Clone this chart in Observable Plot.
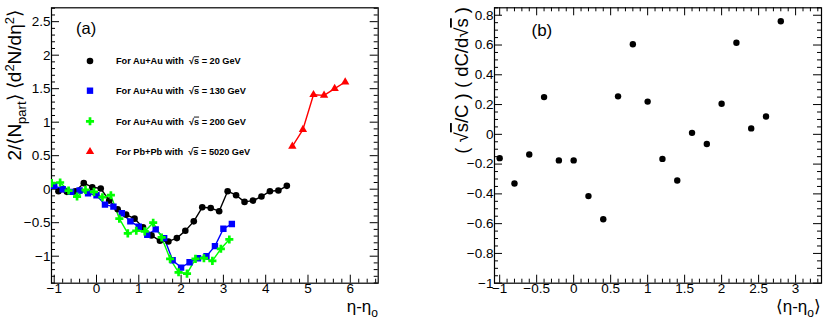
<!DOCTYPE html>
<html><head><meta charset="utf-8">
<script src="https://cdn.jsdelivr.net/npm/d3@7"></script>
<script src="https://cdn.jsdelivr.net/npm/@observablehq/plot@0.6"></script>
<style>
body{margin:0;background:#fff;}
#wrap{position:relative;width:830px;height:325px;}
#wrap svg{position:absolute;top:0;}
</style></head><body><div id="wrap"></div>
<script>
// ---------- Panel (a) data ----------
const etaAu20 = [-0.9,-0.7,-0.5,-0.3,-0.1,0.1,0.3,0.5,0.7,0.9,1.1,1.3,1.5,1.7,1.9,2.1,2.3,2.5,2.7,2.9,3.1,3.3,3.5,3.7,3.9,4.1,4.3,4.5];
const valAu20 = [-0.03,-0.04,-0.03,0.09,0.03,0.01,-0.17,-0.30,-0.38,-0.44,-0.57,-0.69,-0.77,-0.78,-0.73,-0.62,-0.48,-0.27,-0.28,-0.33,-0.03,-0.09,-0.19,-0.17,-0.11,-0.03,-0.02,0.05];
const etaAu130 = [-1.0,-0.8,-0.6,-0.4,-0.2,0.0,0.2,0.4,0.6,0.8,1.0,1.2,1.4,1.6,1.8,2.0,2.2,2.4,2.6,2.8,3.0,3.2];
const valAu130 = [0.05,0.0,-0.04,-0.02,-0.06,-0.09,-0.23,-0.26,-0.36,-0.48,-0.56,-0.68,-0.60,-0.73,-1.06,-1.17,-1.09,-1.03,-1.00,-0.85,-0.59,-0.52];
const etaAu200 = [-1.06,-0.86,-0.66,-0.46,-0.26,-0.06,0.14,0.34,0.54,0.74,0.94,1.14,1.34,1.54,1.74,1.94,2.14,2.34,2.54,2.74,2.94,3.14];
const valAu200 = [0.09,0.10,-0.02,-0.11,-0.01,-0.04,-0.12,-0.09,-0.44,-0.66,-0.62,-0.63,-0.50,-0.72,-1.04,-1.24,-1.26,-1.04,-1.03,-1.07,-0.89,-0.75];
const etaPb5020 = [4.63,4.88,5.13,5.38,5.63,5.88];
const valPb5020 = [0.64,0.89,1.41,1.40,1.50,1.60];

const legendSystems = ["Au+Au","Au+Au","Au+Au","Pb+Pb"];
const legendEnergies = ["20","130","200","5020"];
const seriesColors = ["#000000","#0000ff","#00ff00","#ff0000"];
const seriesSymbols = ["circle","square","cross","triangle"];

const aXTicks = [-1,0,1,2,3,4,5,6];
const aYTicks = [-1,-0.5,0,0.5,1,1.5,2,2.5];

// ---------- Panel (b) data ----------
const etaB = [-1.0,-0.8,-0.6,-0.4,-0.2,0.0,0.2,0.4,0.6,0.8,1.0,1.2,1.4,1.6,1.8,2.0,2.2,2.4,2.6,2.8];
const valB = [-0.16,-0.33,-0.135,0.25,-0.175,-0.175,-0.415,-0.57,0.255,0.605,0.22,-0.165,-0.31,0.01,-0.065,0.205,0.615,0.04,0.12,0.76];
const bXTicks = [-1,-0.5,0,0.5,1,1.5,2,2.5,3];
const bYTicks = [-1,-0.8,-0.6,-0.4,-0.2,0,0.2,0.4,0.6,0.8];

const FONT = '"Liberation Sans", Arial, Helvetica, sans-serif';
const fmt = d3.format("~g");

function minorTicks(dom, step, majors){
  const out = [];
  const s = Math.ceil(dom[0]/step - 1e-9), e = Math.floor(dom[1]/step + 1e-9);
  for (let i = s; i <= e; i++) {
    const v = +(i*step).toFixed(6);
    if (!majors.some(m => Math.abs(m - v) < 1e-6)) out.push(v);
  }
  return out;
}

function frameMarks(c){
  const {xd, yd, kx, ky, xMaj, xMinStep, yMaj, yMinStep, top, right} = c;
  const L = 8, l = 4;
  const xMin = minorTicks(xd, xMinStep, xMaj), yMin = minorTicks(yd, yMinStep, yMaj);
  const xM = xMaj.filter(v => v >= xd[0] && v <= xd[1]);
  const yM = yMaj.filter(v => v >= yd[0] && v <= yd[1]);
  const st = {stroke: "black", strokeWidth: 1};
  const m = [
    Plot.ruleX(xM, {x: d => d, y1: yd[0], y2: yd[0] + L/ky, ...st}),
    Plot.ruleX(xMin, {x: d => d, y1: yd[0], y2: yd[0] + l/ky, ...st}),
    Plot.ruleY(yM, {y: d => d, x1: xd[0], x2: xd[0] + L/kx, ...st}),
    Plot.ruleY(yMin, {y: d => d, x1: xd[0], x2: xd[0] + l/kx, ...st})
  ];
  if (top) {
    m.push(Plot.ruleX(xM, {x: d => d, y1: yd[1], y2: yd[1] - L/ky, ...st}));
    m.push(Plot.ruleX(xMin, {x: d => d, y1: yd[1], y2: yd[1] - l/ky, ...st}));
  }
  if (right) {
    m.push(Plot.ruleY(yM, {y: d => d, x1: xd[1], x2: xd[1] - L/kx, ...st}));
    m.push(Plot.ruleY(yMin, {y: d => d, x1: xd[1], x2: xd[1] - l/kx, ...st}));
  }
  m.push(Plot.frame({stroke: "black", strokeWidth: 1.2}));
  m.push(Plot.axisX({ticks: xMaj, tickSize: 0, tickPadding: 0, tickFormat: fmt, fontSize: 13.5, label: null}));
  m.push(Plot.axisY({ticks: yMaj, tickSize: 0, tickPadding: 1, tickFormat: fmt, fontSize: 13.5, label: null}));
  return m;
}

const W = 415, H = 325;
const wrap = document.getElementById("wrap");

// ---------- Panel (a) ----------
{
  const mL = 51, mR = 37.3, mT = 7.3, mB = 42.3;
  const xd = [-1.064, 6.66], yd = [-1.403, 2.707];
  const kx = (W - mL - mR)/(xd[1]-xd[0]), ky = (H - mT - mB)/(yd[1]-yd[0]);
  const toRows = (xs, ys) => xs.map((x, i) => ({x, y: ys[i]}));
  const series = [toRows(etaAu20, valAu20), toRows(etaAu130, valAu130), toRows(etaAu200, valAu200), toRows(etaPb5020, valPb5020)];
  const rs = [3.3, 3.6, 3.4, 3.1];
  const marks = [];
  series.forEach((s, i) => {
    marks.push(Plot.line(s, {x: "x", y: "y", stroke: seriesColors[i], strokeWidth: 1.4, clip: true}));
  });
  series.forEach((s, i) => {
    marks.push(Plot.dot(s, {x: "x", y: "y", symbol: () => seriesSymbols[i], fill: seriesColors[i], stroke: "none", r: rs[i], clip: true}));
  });
  const p = Plot.plot({
    width: W, height: H, marginLeft: mL, marginRight: mR, marginTop: mT, marginBottom: mB,
    x: {domain: xd, label: null}, y: {domain: yd, label: null},
    style: {fontFamily: FONT, fontSize: "13.5px", color: "black", background: "white", overflow: "visible"},
    marks: [...frameMarks({xd, yd, kx, ky, xMaj: aXTicks, xMinStep: 0.2, yMaj: aYTicks, yMinStep: 0.1, top: false, right: true}), ...marks]
  });
  p.style.left = "0px";
  wrap.appendChild(p);
  const svg = d3.select(p);
  // panel label
  svg.append("text").attr("x", 76).attr("y", 34).attr("text-anchor", "start").attr("font-family", FONT).attr("font-size", 16.5).text("(a)");
  // legend
  const rowsY = [61, 90.7, 121.3, 151.7];
  const symMap = {circle: d3.symbolCircle, square: d3.symbolSquare, cross: d3.symbolCross, triangle: d3.symbolTriangle};
  legendSystems.forEach((sys, i) => {
    svg.append("path").attr("transform", `translate(90,${rowsY[i]})`)
      .attr("d", d3.symbol(symMap[seriesSymbols[i]], Math.PI*rs[i]*rs[i])()).attr("fill", seriesColors[i]);
    const t = svg.append("text").attr("x", 116).attr("y", rowsY[i] + 3.3).attr("text-anchor", "start")
      .attr("font-family", FONT).attr("font-size", 9.2).attr("font-weight", "bold");
    t.append("tspan").text(`For ${sys} with  √`);
    t.append("tspan").attr("text-decoration", "overline").text("s");
    t.append("tspan").text(` = ${legendEnergies[i]} GeV`);
  });
  // y title
  const yt = svg.append("text").attr("transform", "translate(21,10) rotate(-90)")
    .attr("text-anchor", "end").attr("font-family", FONT).attr("font-size", 19);
  yt.append("tspan").text("2/⟨N");
  yt.append("tspan").attr("font-size", 13).attr("dy", 5).text("part");
  yt.append("tspan").attr("dy", -5).text("⟩ ⟨d");
  yt.append("tspan").attr("font-size", 13).attr("dy", -7).text("2");
  yt.append("tspan").attr("dy", 7).text("N/dη");
  yt.append("tspan").attr("font-size", 13).attr("dy", -7).text("2");
  yt.append("tspan").attr("dy", 7).text("⟩");
  // x title
  const xt = svg.append("text").attr("x", 378).attr("y", 312).attr("text-anchor", "end")
    .attr("font-family", FONT).attr("font-size", 17);
  xt.append("tspan").text("η-η");
  xt.append("tspan").attr("font-size", 12).attr("dy", 5).text("o");
}

// ---------- Panel (b) ----------
{
  const mL = 79, mR = 9, mT = 7.3, mB = 42.3;
  const xd = [-1.07, 3.35], yd = [-1, 0.85];
  const kx = (W - mL - mR)/(xd[1]-xd[0]), ky = (H - mT - mB)/(yd[1]-yd[0]);
  const rows = etaB.map((x, i) => ({x, y: valB[i]}));
  const p = Plot.plot({
    width: W, height: H, marginLeft: mL, marginRight: mR, marginTop: mT, marginBottom: mB,
    x: {domain: xd, label: null}, y: {domain: yd, label: null},
    style: {fontFamily: FONT, fontSize: "13.5px", color: "black", background: "white", overflow: "visible"},
    marks: [...frameMarks({xd, yd, kx, ky, xMaj: bXTicks, xMinStep: 0.1, yMaj: bYTicks, yMinStep: 0.05, top: true, right: true}),
      Plot.dot(rows, {x: "x", y: "y", fill: "black", stroke: "none", r: 3.2})]
  });
  p.style.left = "415px";
  wrap.appendChild(p);
  const svg = d3.select(p);
  svg.append("text").attr("x", 116.5).attr("y", 36).attr("text-anchor", "start").attr("font-family", FONT).attr("font-size", 17).text("(b)");
  const yt = svg.append("text").attr("transform", "translate(53,7) rotate(-90)")
    .attr("text-anchor", "end").attr("font-family", FONT).attr("font-size", 18.5);
  yt.append("tspan").text("( √");
  yt.append("tspan").attr("text-decoration", "overline").text("s");
  yt.append("tspan").text("/C ) ( dC/d√");
  yt.append("tspan").attr("text-decoration", "overline").text("s");
  yt.append("tspan").text(" )");
  const xt = svg.append("text").attr("x", 406).attr("y", 312).attr("text-anchor", "end")
    .attr("font-family", FONT).attr("font-size", 17);
  xt.append("tspan").text("⟨η-η");
  xt.append("tspan").attr("font-size", 12).attr("dy", 5).text("o");
  xt.append("tspan").attr("dy", -5).text("⟩");
}
</script></body></html>
